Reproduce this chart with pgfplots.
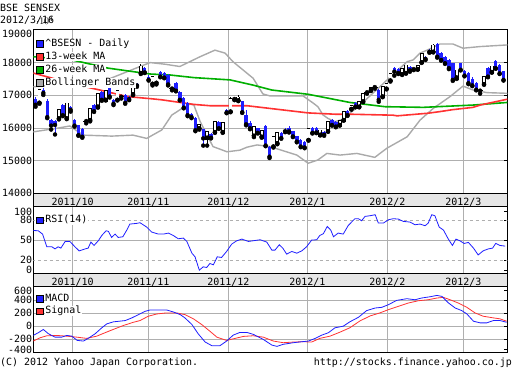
\documentclass[border=0pt]{standalone}
\usepackage{fontspec}
\usepackage{pgfplots}
\usepackage{pgfplotstable}
\pgfplotsset{compat=1.18}
\newfontfamily\mono{DejaVu Sans Mono}
\newcommand\mf{\mono\fontsize{10}{12}\selectfont}
\definecolor{cblue}{RGB}{30,30,255}
\definecolor{mared}{RGB}{255,50,50}
\definecolor{magreen}{RGB}{0,175,0}
\definecolor{bgray}{RGB}{170,170,170}
\definecolor{gridc}{RGB}{175,175,175}
\definecolor{stripc}{RGB}{230,230,230}

% down candles
\pgfplotstableread{
i o h l c
0 16890 16950 16650 16710
2 17170 17230 17010 17070
3 16830 16880 16300 16330
4 16230 16260 15950 16070
5 16210 16240 15800 16090
7 16700 16720 16360 16390
9 16650 16680 16500 16550
10 16240 16260 16040 16070
11 16090 16100 15760 15780
12 15970 16000 15700 15730
15 16700 16720 16490 16510
17 17110 17130 16830 16860
19 17220 17240 16930 16960
20 16860 16880 16700 16740
23 17020 17040 16740 16770
24 16950 16990 16850 16880
26 17340 17380 17260 17300
28 17830 17860 17680 17700
29 17570 17620 17450 17470
32 17720 17740 17550 17570
33 17680 17720 17520 17540
34 17610 17650 17300 17330
36 17380 17400 17120 17140
37 17110 17130 16840 16860
38 16920 16950 16600 16620
39 16770 16800 16360 16390
40 16420 16450 16300 16330
41 16310 16330 15900 15930
43 15960 15980 15460 15680
45 15820 15850 15680 15700
47 16190 16220 15970 15990
49 16550 16570 16450 16470
53 16810 16830 16460 16480
54 16390 16550 16080 16110
55 16150 16200 15960 15990
57 15990 16010 15830 15850
59 16060 16080 15440 15460
60 15430 15450 15080 15120
63 15850 15880 15670 15690
64 15950 15990 15870 15900
65 16010 16060 15860 15890
66 15900 15920 15720 15740
67 15740 15760 15560 15580
68 15630 15650 15410 15430
69 15560 15590 15380 15400
71 16000 16030 15830 15850
72 15990 16020 15840 15860
74 15890 15910 15760 15790
76 16240 16260 16070 16090
77 16190 16220 16020 16040
80 16520 16540 16370 16390
82 16770 16800 16630 16650
88 17170 17180 16800 16860
92 17830 17850 17600 17720
93 17800 17830 17650 17680
96 17850 17890 17720 17760
100 18180 18200 18080 18110
101 18390 18420 18300 18330
103 18560 18600 18150 18180
104 18300 18320 18060 18080
105 18180 18200 17960 17980
106 18080 18100 17800 17830
107 17980 18000 17440 17470
109 17980 18000 17760 17780
110 17750 17780 17580 17600
111 17670 17700 17340 17370
112 17500 17550 17280 17300
113 17370 17400 17150 17170
116 17830 17860 17550 17570
118 18050 18070 17810 17830
119 17930 17950 17650 17670
120 17730 17750 17450 17470
}\D

% up candles
\pgfplotstableread{
i o h l c
1 16770 17160 16740 17130
6 16290 16540 16260 16510
8 16290 16760 16270 16720
14 16240 16580 16200 16550
16 16650 17040 16620 17020
18 16860 17150 16840 17110
21 16860 17130 16840 17110
25 17030 17320 17000 17280
27 17680 17950 17650 17850
30 17350 17560 17300 17530
31 17380 17500 17330 17480
42 15990 16100 15950 16070
44 15700 15880 15460 15850
46 15870 16180 15850 16150
48 15870 16140 15850 16110
50 16500 16950 16480 16860
52 16840 17000 16820 16900
56 15760 16050 15720 15990
58 15730 15900 15700 15870
61 15430 15720 15400 15690
62 15530 15840 15500 15810
70 15630 15970 15610 15940
73 15790 15920 15770 15890
75 15900 16170 15880 16140
78 16090 16210 16070 16190
79 16240 16480 16220 16450
81 16580 16680 16560 16650
83 16650 16800 16630 16770
84 16810 17050 16790 17020
86 17150 17220 17130 17200
89 16960 17250 16940 17220
90 17200 17350 17180 17320
91 17450 17650 17420 17620
94 17640 17810 17620 17780
95 17680 17900 17660 17880
98 17800 17880 17780 17860
99 18010 18260 17990 18240
102 18330 18560 18310 18490
108 17540 17760 17500 17730
115 17340 17570 17320 17540
117 17710 17870 17690 17850
}\U

% doji
\pgfplotstableread{
i c h l
13 16210 16260 16140
22 16955 17000 16900
35 17205 17250 17150
51 16885 16920 16850
85 17090 17130 17050
87 17250 17290 17200
97 17800 17840 17770
114 17140 17200 17050
}\X

\pgfplotstableread{
i v
-0.6 17680
10.9 17310
16.5 17160
23.5 16960
30 16890
32.4 16860
40.6 16720
44.7 16680
54.2 16680
60.6 16590
69.9 16460
76.8 16420
80.6 16420
91.7 16390
92.7 16370
100.6 16450
103.7 16500
107 16560
112.2 16630
114 16700
121 16880
}\MAa

\pgfplotstableread{
i v
-0.6 18180
9.4 18080
18.6 17830
29.4 17650
34.5 17620
40.6 17540
49.9 17470
55.8 17310
60.6 17160
69.9 17030
80.6 16780
89.6 16650
99.4 16630
112.2 16700
121 16780
}\MAb

\pgfplotstableread{
i v
-0.6 17260
3.7 17300
8.8 17290
14 17330
19.1 17510
26.8 17880
29.4 18000
33.2 17950
37 17880
42.2 18180
46 18380
48.6 18290
50.6 18030
55.8 17520
58.3 17040
60.1 16980
68.6 16980
71.2 16760
72.4 16650
73.7 16400
75 16290
76.8 16190
79.4 16290
80.6 16450
83.2 16700
88.3 17260
90.6 17520
95.3 18030
96.8 18080
98.6 18290
100.6 18390
103.7 18570
107 18570
109.6 18440
114 18490
121 18540
}\BBu

\pgfplotstableread{
i v
-0.6 15880
5.5 15990
8.8 16060
12.2 15780
19.6 15750
25 15780
28.5 15680
32.4 15940
34.9 16390
37.6 16600
39.6 16730
40.6 16700
42.2 16200
45.5 15430
49.1 15270
52.4 15320
54.2 15410
56.8 15480
60.1 15430
67 15170
69.9 14920
72.4 15020
74.7 15220
78.1 15170
82.4 15220
87 15100
90.1 15380
95.3 15730
98.6 16240
102 16600
106.3 16960
109.6 17280
112.2 17160
115.8 17080
121 17060
}\BBl

\pgfplotstableread{
i v
-0.6 64.4
0.7 64
1.8 59
2.9 40
4.2 40
5 36.8
5.8 40
6.5 38
7.6 48
8.8 48
10.1 40
11.2 33.8
12.7 36.8
13.5 38
14.2 47
15 42
16.1 49
17 57
18.1 64
18.7 63
19.5 54
20.4 59
21.2 54
22.4 55
23.4 65
24.2 74
25.9 75
26.8 76
28.5 69.5
29.8 62
31.5 59
32.8 59
34.1 60.5
35.3 57
36.6 52
37.9 53
38.8 48
40.1 30.4
40.9 25
42 5
43 10
43.9 9
44.7 15
45.6 13
46.6 25
47.7 24
49 33
50.3 44
51.6 49
52.9 51.5
54.6 48
55.8 49
57.6 50.5
59.3 47
60.6 35
61.4 35
62.5 43
63.4 38
64.4 29
65.7 33
67 30.4
68.3 34
69.5 40
70.8 50
72.1 50.5
72.9 57
73.8 59.5
74.8 70.4
75.7 65
76.4 55
77.6 60.5
78.9 59
80.2 72
81.9 82
82.8 82
83.6 79
84.5 85.5
85.8 86.5
87.1 88
87.9 75.5
89.2 75.5
90.5 80.5
91.7 82
93 81.5
94.3 78
96 77
97.3 73
98.6 74
99.9 71.5
100.7 75.5
101.6 88
102.4 86.5
103.5 69.5
104.6 65
105.8 52
106.9 42
107.8 51.5
108.8 49
109.9 45
111 46.5
112.3 38
113.5 27.8
114.8 34
116.1 36.8
117.2 38
118 45
119.1 42
120.4 41
}\RSI

\pgfplotstableread{
i v
-0.6 -141
0.7 -100
2 -50
3.3 -115
5 -167
6.7 -167
8 -141
9.3 -152
10.7 -217
12.3 -227
13.5 -186
15.3 -115
17 -24
18.3 36
20 67
21.5 76
23 86
24.7 127
26.4 177
28.1 227
29.4 248
31.1 248
33.6 248
35.3 218
37.1 177
38.3 127
40.1 26
41.7 -115
43.5 -242
45.2 -297
47.3 -297
49 -227
50.7 -136
52.4 -95
54.2 -95
55.9 -126
58.4 -202
60.6 -288
61.9 -308
63.5 -277
66.1 -252
68.3 -237
70 -227
71.7 -186
73.4 -136
75.1 -100
76.8 -24
78.9 0
80.6 67
82.8 136
84.9 238
87.1 278
88.8 288
90.5 329
92.6 394
95.2 420
97.3 404
99 430
101.2 450
102.9 470
104.2 455
105.9 354
107.6 278
109.3 238
110.6 187
112.3 76
114 51
115.7 51
117.4 86
119.1 86
120.8 60
}\MACD

\pgfplotstableread{
i v
-0.6 -227
1.2 -176
2.9 -146
5.4 -141
8 -152
10.6 -167
13.1 -186
15.7 -152
17.8 -100
19.9 -50
22.5 10
25.1 60
26.8 86
28.9 152
31.1 187
33.6 203
36.2 203
38.3 177
40.5 112
42.6 26
44.7 -76
46.5 -167
49 -217
51.2 -186
53.3 -156
55.8 -146
58.4 -167
61 -227
63.5 -252
66.1 -242
68.7 -237
70.8 -242
72.9 -186
75.5 -152
78.1 -90
80.6 -24
83.2 81
85.8 157
88.3 203
90.5 253
93 303
95.6 354
98.2 389
100.7 404
102.9 430
104.6 440
106.3 404
108.4 354
110.6 288
112.7 203
114.8 152
117.4 127
119.1 112
120.8 76
}\SIG

\pgfplotsset{
  panel/.style={scale only axis, width=474bp,
    xmin=-0.57, xmax=120.97,
    xtick={9.54,28.92,49.44,69.69,90.2,109.69},
    xmajorgrids, ymajorgrids,
    grid style={gridc, line width=0.8bp},
    axis line style={black, line width=0.8bp},
    xtick style={draw=none},
    ytick style={black, line width=0.8bp},
    major tick length=3.5bp, tick align=inside,
    ytick pos=right, yticklabel pos=left,
    ticklabel style={font=\mf},
    yticklabel style={inner sep=1bp},
    xticklabel style={inner sep=0pt, anchor=north, yshift=-4.4bp, text height=7.3bp, text depth=0pt},
    legend cell align=left,
  },
  sq/.style={legend image code/.code={\draw[black, line width=0.6bp, fill=#1] (0bp,-3.3bp) rectangle (6.6bp,3.3bp);}},
  lgd/.style={draw=none, fill=none, inner sep=0pt, outer sep=0pt, at={(0,1)}, anchor=north west, xshift=2.9bp,
    nodes={fill=white, inner sep=0.5bp, text height=6.8bp, text depth=1.8bp, font=\mf, anchor=west},
    /tikz/every odd column/.append style={column sep=1.5bp}},
  ebar/.style={only marks, mark=none, forget plot, error bars/.cd, y dir=plus, y explicit, error mark=none},
}

\begin{document}
\begin{tikzpicture}
\useasboundingbox (0bp,0bp) rectangle (512bp,380bp);
\filldraw[fill=stripc, draw=black, line width=0.8bp] (33.3bp,173.3bp) rectangle (507.3bp,186.7bp);
\filldraw[fill=stripc, draw=black, line width=0.8bp] (33.3bp,93.1bp) rectangle (507.3bp,106.5bp);

\node[anchor=base west, font=\mf, inner sep=0pt] at (0bp,368.3bp) {BSE SENSEX};
\node[anchor=base west, font=\mf, inner sep=0pt] at (0bp,356.2bp) {2012/3/16};
\node[anchor=base west, font=\mf, inner sep=0pt] at (0bp,15bp) {(C) 2012 Yahoo Japan Corporation.};
\node[anchor=base east, font=\mf, inner sep=0pt] at (512bp,15bp) {http://stocks.finance.yahoo.co.jp};

% ---------- main panel
\begin{axis}[panel, at={(33.3bp,186.7bp)}, height=163.4bp,
  ymin=14000, ymax=19000,
  ytick={14000,15000,16000,17000,18000,19000},
  yticklabels={14000,15000,16000,17000,18000,},
  extra y ticks={18890}, extra y tick labels={19000},
  extra y tick style={grid=none, ytick style={draw=none}},
  xticklabels={2011/10,2011/11,2011/12,2012/1,2012/2,2012/3},
  legend style={lgd, yshift=-8.8bp, row sep=3.5bp}]
\addplot[bgray, line width=1.4bp, forget plot] table[x=i,y=v] {\BBu};
\addplot[bgray, line width=1.4bp, forget plot] table[x=i,y=v] {\BBl};
\addplot[magreen, line width=1.6bp, forget plot] table[x=i,y=v] {\MAb};
\addplot[mared, line width=1.6bp, forget plot] table[x=i,y=v] {\MAa};
% wicks
\addplot[ebar, error bar style={cblue, line width=0.8bp}] table[x=i, y=l, y error plus expr=\thisrow{h}-\thisrow{l}] {\D};
\addplot[ebar, error bar style={black, line width=0.8bp}] table[x=i, y=l, y error plus expr=\thisrow{h}-\thisrow{l}] {\U};
\addplot[ebar, error bar style={black, line width=0.8bp}] table[x=i, y=l, y error plus expr=\thisrow{h}-\thisrow{l}] {\X};
% bodies
\addplot[ebar, error bar style={cblue, line width=3.4bp, line cap=butt}] table[x=i, y=c, y error plus expr=\thisrow{o}-\thisrow{c}] {\D};
\addplot[ebar, error bar style={black, line width=3.8bp, line cap=rect}] table[x=i, y=o, y error plus expr=\thisrow{c}-\thisrow{o}] {\U};
\addplot[ebar, error bar style={white, line width=2.2bp, line cap=rect}] table[x=i, y=o, y error plus expr=\thisrow{c}-\thisrow{o}] {\U};
\addplot[only marks, mark=none, forget plot, error bars/.cd, x dir=both, x fixed=0.7, error mark=none, error bar style={black, line width=0.8bp}] table[x=i, y=c] {\X};
\addlegendimage{sq=cblue}\addlegendentry{\textasciicircum BSESN - Daily}
\addlegendimage{sq=mared}\addlegendentry{13-week MA}
\addlegendimage{sq=magreen}\addlegendentry{26-week MA}
\addlegendimage{sq=bgray}\addlegendentry{Bollinger Bands}
\end{axis}

% ---------- RSI panel
\begin{axis}[panel, at={(33.3bp,106.5bp)}, height=66.8bp,
  ymin=0, ymax=100,
  ytick={50}, yticklabels={50},
  extra y ticks={5,20,80,93}, extra y tick labels={0,20,80,100},
  extra y tick style={grid=none},
  xticklabels={2011/10,2011/11,2011/12,2012/1,2012/2,2012/3},
  legend style={lgd, yshift=-9bp}]
\addplot[gridc, line width=0.8bp, dash pattern=on 3bp off 3bp, forget plot] coordinates {(-1,20) (122,20)};
\addplot[gridc, line width=0.8bp, dash pattern=on 3bp off 3bp, forget plot] coordinates {(-1,80) (122,80)};
\addplot[cblue, line width=0.8bp, forget plot] table[x=i,y=v] {\RSI};
\addlegendimage{sq=cblue}\addlegendentry{RSI(14)}
\end{axis}

% ---------- MACD panel
\begin{axis}[panel, at={(33.3bp,27.6bp)}, height=65.5bp,
  ymin=-400, ymax=600,
  ytick={-200,0,200,400}, yticklabels={-200,0,200,400},
  extra y ticks={-355,545}, extra y tick labels={-400,600},
  extra y tick style={grid=none},
  xticklabels={},
  legend style={lgd, yshift=-7bp, row sep=3bp}]
\addplot[mared, line width=0.8bp, forget plot] table[x=i,y=v] {\SIG};
\addplot[cblue, line width=0.8bp, forget plot] table[x=i,y=v] {\MACD};
\addlegendimage{sq=cblue}\addlegendentry{MACD}
\addlegendimage{sq=mared}\addlegendentry{Signal}
\end{axis}
\end{tikzpicture}
\end{document}
